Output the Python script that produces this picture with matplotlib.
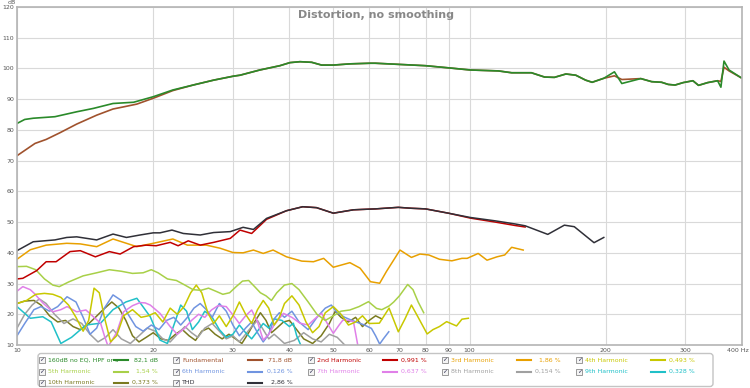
import matplotlib
matplotlib.use("Agg")
import matplotlib.pyplot as plt
import matplotlib.transforms as mtransforms
from matplotlib.patches import Rectangle, FancyBboxPatch

# measurement (160dB no EQ) and fundamental, SPL in dB
meas_f = [10, 10.4, 10.86, 12.13, 13.55, 14.75, 16.3, 18.1, 20, 22.1, 24.5, 27.2, 30.1, 31.1,
          34.4, 38.1, 40.1, 42.2, 44.8, 47.1, 50, 54.5, 60.4, 61.9, 79.9, 89.8, 100.4, 115.8,
          123.9, 137, 146.5, 154, 163.3, 171.7, 180.5, 186.6, 198, 209, 217, 239, 252.6, 265.7,
          274.8, 284.5, 296.6, 311.6, 320.6, 336, 353.3, 359.3, 365, 374.5, 398]
meas_db = [82.1, 83.4, 83.8, 84.3, 85.9, 87.0, 88.6, 89.0, 90.8, 93.0, 94.6, 96.2, 97.5, 97.8,
           99.5, 100.9, 101.9, 102.2, 102.0, 101.1, 101.1, 101.5, 101.7, 101.7, 100.9, 100.2, 99.5, 99.2,
           98.6, 98.6, 97.2, 97.1, 98.2, 97.8, 96.2, 95.5, 96.8, 98.9, 95.1, 96.7, 95.7, 95.5,
           94.8, 94.6, 95.4, 96.0, 94.5, 95.4, 96.0, 93.9, 102.4, 99.5, 97.0]
fund_f = [10, 10.96, 11.6, 12.45, 13.55, 15.0, 16.3, 17.2, 18.4, 20, 22.1, 24.5, 27.2, 30.1, 31.1,
          34.4, 38.1, 40.1, 42.2, 44.8, 47.1, 50, 54.5, 60.4, 61.9, 79.9, 89.8, 100.4, 115.8,
          123.9, 137, 146.5, 154, 163.3, 171.7, 180.5, 186.6, 198, 209, 217, 239, 252.6, 265.7,
          274.8, 284.5, 296.6, 311.6, 320.6, 336, 353.3, 359.3, 365, 374.5, 398]
fund_db = [71.6, 75.6, 76.9, 79.1, 81.9, 84.8, 86.8, 87.5, 88.4, 90.3, 92.8, 94.6, 96.2, 97.5, 97.8,
           99.5, 100.9, 101.9, 102.2, 102.0, 101.1, 101.1, 101.5, 101.7, 101.7, 100.9, 100.2, 99.5, 99.2,
           98.6, 98.6, 97.2, 97.1, 98.2, 97.8, 96.2, 95.5, 96.8, 97.6, 96.4, 96.7, 95.7, 95.5,
           94.8, 94.6, 95.4, 96.0, 94.5, 95.4, 96.0, 95.8, 100.4, 99.2, 97.0]

thd_f = [10, 10.86, 12.13, 12.88, 13.55, 15, 16.3, 17.45, 18.7, 20, 20.7, 22, 23.3, 25.4, 27.2,
         29.6, 31.6, 33.3, 35.6, 39.4, 42.8, 45.9, 50, 55.4, 62, 69.6, 74.4, 79.9, 89.8, 100.4,
         114, 126, 132.7, 148.9, 162, 170.4, 188.4, 198]
thd_db = [40.7, 43.6, 44.2, 45.0, 45.2, 44.2, 46.1, 45.0, 45.8, 46.5, 46.5, 47.4, 46.3, 45.8, 46.6,
          46.9, 48.3, 47.6, 51.2, 53.7, 55.0, 54.7, 52.9, 54.0, 54.3, 54.8, 54.5, 54.3, 52.9, 51.5,
          50.4, 49.4, 48.8, 46.0, 49.0, 48.5, 43.3, 45.0]

h2_f = [10, 10.3, 11.05, 11.6, 12.2, 13.1, 13.8, 14.9, 16.0, 16.9, 18.1, 19.3, 20.3, 21.8, 22.7,
        23.9, 25.4, 27.2, 29.6, 31.1, 33.0, 35.6, 39.4, 42.8, 45.9, 50, 55.4, 62, 69.6, 74.4,
        79.9, 89.8, 100.4, 114, 126, 132.7]
h2_db = [31.5, 31.7, 34.2, 37.1, 37.1, 40.4, 40.7, 38.7, 40.4, 39.6, 42.0, 42.5, 42.3, 43.4, 42.3,
         43.9, 42.5, 43.4, 44.7, 47.4, 46.3, 50.9, 53.7, 55.0, 54.7, 52.9, 54.0, 54.3, 54.8, 54.5,
         54.3, 52.9, 51.3, 50.0, 48.9, 48.4]

h3_f = [10, 10.7, 11.6, 12.88, 13.8, 15, 16.3, 17.45, 18.4, 20, 22.1, 23.8, 26.2, 28.1, 30,
        31.6, 33.3, 35, 36.8, 39.4, 42.6, 45.2, 47.6, 50, 54.4, 57.3, 60.4, 63.3, 65.5, 70.2,
        74.4, 77.7, 81.3, 85.8, 91.4, 96.2, 98.8, 104.5, 109.3, 115, 119.6, 123.9, 131.4]
h3_db = [37.9, 41.0, 42.5, 43.1, 42.9, 42.0, 44.5, 43.1, 42.0, 43.1, 44.5, 42.5, 42.5, 41.5, 40.1,
         40.0, 40.9, 39.8, 40.9, 38.7, 37.3, 37.1, 38.2, 35.3, 36.8, 35.0, 30.6, 30.1, 33.9, 40.9,
         38.5, 39.6, 39.3, 37.9, 37.4, 38.2, 38.2, 39.8, 37.6, 38.7, 39.3, 41.8, 40.9]

h4_f = [10, 10.5, 11, 11.5, 12, 12.5, 13, 13.5, 14, 14.4, 14.8, 15.2, 15.6, 16.1, 16.6, 17.2,
        18, 18.8, 19.5, 20.2, 21, 21.8, 22.6, 23.4, 24.2, 24.9, 25.6, 26.4, 27.2, 28, 29, 30,
        31, 32, 33, 34, 35, 36, 37, 38, 39, 40.5, 42, 43.5, 45, 46.5, 48, 50, 52, 54, 56, 58,
        60, 63.2, 66.4, 69.6, 72, 74.4, 77, 80.6, 83, 85.8, 89, 93.6, 96.2, 99.4]
h4_db = [23.5, 24.5, 26.5, 26.8, 26.5, 25.5, 23.0, 19.0, 14.5, 18.0, 28.5, 27.0, 19.0, 11.0, 13.0, 19.5,
         21.5, 19.0, 19.5, 20.5, 17.5, 22.0, 20.0, 22.5, 27.0, 29.5, 27.0, 20.5, 17.0, 19.5, 16.0, 19.5,
         24.0, 20.0, 17.0, 21.5, 24.5, 22.0, 16.5, 19.0, 23.5, 26.0, 23.0, 17.5, 14.0, 16.0, 20.5, 22.5,
         20.0, 16.5, 17.5, 19.5, 17.0, 17.1, 22.0, 14.3, 18.5, 23.0, 19.0, 13.6, 15.0, 16.0, 17.6, 16.2,
         18.4, 18.7]

h5_f = [10, 10.5, 11, 11.5, 12, 12.4, 13, 14, 15, 16, 17, 18, 19, 19.8, 20.5, 21.5, 22.5, 23.5,
        24.5, 25.5, 26.5, 27.5, 28.5, 29.5, 30.5, 31.5, 32.5, 33.5, 34.5, 35.5, 36.5, 37.5, 39,
        40.5, 42, 44, 46, 48, 50, 52, 54.4, 57, 59.8, 62.3, 64, 66.4, 68, 70, 73, 75, 77, 79.2]
h5_db = [35.5, 35.6, 34.5, 31.5, 29.5, 29.0, 30.5, 32.5, 33.5, 34.5, 34.0, 33.3, 33.5, 34.5, 33.5,
         31.5, 31.0, 29.5, 28.0, 27.8, 28.5, 27.5, 26.5, 27.0, 29.0, 30.8, 31.0, 29.0, 27.0, 26.0,
         24.5, 27.0, 29.5, 30.0, 28.0, 24.0, 20.0, 18.0, 19.5, 21.0, 21.4, 22.5, 24.1, 21.9, 21.5,
         22.7, 24.0, 26.0, 29.7, 28.0, 24.0, 20.5]

h6_f = [10, 10.4, 10.9, 11.3, 11.8, 12.3, 12.9, 13.5, 14.0, 14.5, 15.0, 15.6, 16.3, 17, 17.6,
        18.3, 19, 19.8, 20.6, 21.4, 22.2, 23, 23.8, 24.6, 25.4, 26.2, 27, 28, 29, 30, 31, 32, 33,
        34, 35, 36, 37, 38, 39, 40.5, 42, 44, 46, 48, 49.5, 51, 53, 55, 58.6, 60.7, 62, 63.3,
        64.5, 66.3]
h6_db = [13.0, 17.0, 21.5, 22.5, 21.0, 22.5, 25.7, 24.0, 19.0, 13.5, 15.5, 22.0, 26.3, 24.5, 20.0,
         16.0, 14.5, 16.5, 15.0, 18.0, 19.0, 16.5, 19.0, 22.0, 23.5, 21.5, 19.0, 23.5, 21.0, 16.5,
         13.0, 15.5, 17.5, 14.0, 11.0, 13.5, 18.5, 20.5, 19.0, 21.0, 17.5, 15.0, 19.0, 22.0, 23.0,
         20.5, 19.0, 18.0, 16.5, 15.4, 13.0, 10.3, 12.0, 14.3]

h7_f = [10, 10.3, 10.7, 10.9, 11.4, 12.0, 12.5, 12.9, 13.55, 14.2, 14.8, 15.3, 15.6, 15.9, 16.6,
        17.2, 18, 18.7, 19.2, 19.7, 20.7, 21.8, 22.6, 23.5, 24.3, 25.2, 26, 26.9, 27.8, 29, 30,
        31, 32, 33, 34, 35, 36, 37, 38.8, 40.5, 42.2, 44, 45.5, 47.1, 48.5, 50, 51.5, 52.5, 54,
        55.4, 56.7]
h7_db = [27.5, 29.0, 28.0, 26.9, 23.7, 20.8, 21.5, 22.5, 20.8, 21.4, 19.0, 17.1, 13.0, 9.5, 14.0,
         20.8, 22.8, 23.8, 23.7, 23.0, 20.3, 16.0, 13.5, 15.5, 18.0, 20.0, 19.0, 21.4, 22.8, 22.5, 19.8,
         17.0, 19.5, 21.4, 17.5, 11.6, 13.5, 16.5, 20.3, 19.0, 17.1, 16.5, 18.5, 20.3, 17.0, 13.8,
         16.5, 18.1, 18.0, 17.6, 9.5]

h8_f = [10, 10.4, 10.8, 11.2, 11.6, 12.1, 12.7, 13.3, 13.9, 14.5, 15.1, 15.7, 16.3, 17, 17.8,
        18.6, 19.4, 20.2, 21, 21.8, 22.6, 23.5, 24.3, 25.1, 26, 27, 28, 29, 30, 31, 32, 33, 34,
        35, 36, 37, 38, 39, 41, 43, 45, 47, 49, 51, 53]
h8_db = [15.5, 20.0, 23.0, 25.0, 23.5, 20.0, 17.0, 18.5, 17.0, 13.5, 11.0, 12.5, 15.0, 12.0, 10.5,
         13.0, 15.5, 14.5, 12.0, 11.0, 13.5, 16.0, 14.0, 12.5, 15.5, 17.0, 14.5, 12.0, 13.0, 11.0,
         13.5, 16.0, 18.0, 15.0, 12.0, 13.5, 12.0, 10.5, 11.5, 14.0, 12.0, 11.0, 13.5, 12.5, 10.0]

h9_f = [10, 10.7, 11.4, 11.9, 12.5, 13.2, 14.2, 15.3, 16.3, 17.4, 18.4, 19.7, 20.7, 21.5, 22.4,
        23.0, 23.7, 24.4, 25.2, 26, 27, 28, 29, 30, 31, 32, 33, 34, 35, 36, 37, 38.5, 40, 40.8,
        41.5, 42.5]
h9_db = [22.5, 18.7, 19.2, 17.5, 10.5, 12.5, 16.5, 17.1, 21.5, 24.0, 25.2, 19.2, 11.6, 10.5, 18.0,
         23.0, 21.0, 15.0, 17.5, 21.0, 19.0, 15.0, 12.5, 13.5, 16.5, 14.0, 12.0, 14.5, 17.0, 15.5,
         18.5, 18.0, 16.0, 17.1, 13.0, 9.5]

h10_f = [10, 10.4, 10.9, 11.3, 11.8, 12.3, 12.8, 13.3, 13.8, 14.3, 14.9, 15.5, 16.2, 16.8, 17.4,
         18, 18.6, 19.3, 20, 20.8, 21.6, 22.4, 23.2, 24, 24.8, 25.6, 26.5, 27.4, 28.4, 29.4, 30.4,
         31.4, 32.5, 33.5, 34.5, 35.5, 36.5, 37.5, 38.8, 40, 41.5, 43, 45, 47, 49, 50.5, 52, 54,
         56, 58, 60, 62, 64]
h10_db = [23.5, 24.3, 24.5, 23.0, 19.5, 17.5, 18.0, 16.0, 15.0, 16.5, 19.0, 21.5, 24.0, 22.0, 18.0,
          13.0, 11.0, 12.5, 14.0, 12.0, 11.5, 13.5, 15.0, 13.0, 11.5, 14.5, 15.5, 13.5, 12.0, 13.5,
          12.0, 10.5, 14.0, 17.5, 20.5, 18.0, 14.0, 15.5, 17.5, 18.0, 15.0, 12.0, 10.5, 13.0, 17.0,
          21.0, 19.0, 17.5, 19.0, 16.0, 18.0, 19.5, 18.5]

# legend entries
names = ["160dB no EQ, HPF or s", "Fundamental", "2nd Harmonic", "3rd Harmonic", "4th Harmonic",
         "5th Harmonic", "6th Harmonic", "7th Harmonic", "8th Harmonic", "9th Harmonic",
         "10th Harmonic", "THD"]
values = ["82,1 dB", "71,8 dB", "0,991 %", "1,86 %", "0,493 %",
          "1,54 %", "0,126 %", "0,637 %", "0,154 %", "0,328 %",
          "0,373 %", "2,86 %"]
colors = ["#2a8a2a", "#a0522d", "#c00000", "#e8a000", "#c8c800",
          "#a8d048", "#7094e0", "#e080e8", "#a0a0a0", "#20c0c8",
          "#7a7a20", "#303038"]

xticks = [10, 20, 30, 40, 50, 60, 70, 80, 90, 100, 200, 300, 400]
xticklabels = ["10", "20", "30", "40", "50", "60", "70", "80", "90", "100", "200", "300", "400 Hz"]
yticks = list(range(10, 121, 10))

fig = plt.figure(figsize=(7.5, 3.88), dpi=100)
ax = fig.add_axes([17 / 750, 1 - 345 / 388, 725 / 750, 338 / 388])

series = [(meas_f, meas_db), (fund_f, fund_db), (h2_f, h2_db), (h3_f, h3_db), (h4_f, h4_db),
          (h5_f, h5_db), (h6_f, h6_db), (h7_f, h7_db), (h8_f, h8_db), (h9_f, h9_db),
          (h10_f, h10_db), (thd_f, thd_db)]
# draw low harmonics first, big curves on top
order = [10, 8, 9, 6, 7, 4, 5, 3, 2, 11, 1, 0]
for i in order:
    f, d = series[i]
    ax.plot(f, d, color=colors[i], lw=1.1 if i > 1 else 1.2, solid_joinstyle="round")

ax.set_xscale("log")
ax.set_xlim(10, 400)
ax.set_ylim(10, 120)
ax.set_xticks(xticks)
ax.set_xticklabels(xticklabels)
ax.xaxis.set_minor_locator(matplotlib.ticker.NullLocator())
ax.set_yticks(yticks)
ax.tick_params(labelsize=4.5, colors="#555555", length=0, pad=2)
# last label ("400 Hz") sits left-aligned-ish so it stays inside the figure
last = ax.get_xticklabels()[-1]
last.set_horizontalalignment("right")
last.set_transform(last.get_transform() + mtransforms.ScaledTranslation(7 / 100, 0, fig.dpi_scale_trans))
ax.grid(True, color="#d9d9d9", lw=0.8)
ax.set_axisbelow(True)
for s in ax.spines.values():
    s.set_color("#b4b4b4")
    s.set_linewidth(1.2)
ax.text(0.495, 0.99, "Distortion, no smoothing", transform=ax.transAxes, ha="center", va="top",
        fontsize=8, color="#888888", fontweight="bold")
fig.text(12 / 750, 1 - 3 / 388, "dB", fontsize=4.5, color="#555555", ha="center", va="center")

# legend drawn in pixel coordinates
lg = fig.add_axes([0, 0, 1, 1])
lg.set_xlim(0, 750)
lg.set_ylim(388, 0)
lg.axis("off")
lg.add_patch(FancyBboxPatch((38, 353.5), 675, 33, boxstyle="round,pad=0,rounding_size=3",
                            fc="white", ec="#c4c4c4", lw=1))
rows_y = [360, 371.5, 382.5]
for k, name in enumerate(names):
    r, c = divmod(k, 5)
    x0 = 42 + 134.3 * c
    y = rows_y[r]
    lg.add_patch(Rectangle((x0 - 3, y - 3), 6, 6, fc="#f4f4f4", ec="#8a8a8a", lw=0.6))
    lg.text(x0, y, "\u2713", fontsize=4.5, color="#333355", ha="center", va="center")
    lg.text(x0 + 6, y, name, fontsize=4.5, color=colors[k], ha="left", va="center")
    lg.plot([x0 + 72, x0 + 86], [y, y], color=colors[k], lw=1.5)
    lg.text(x0 + 116, y, values[k], fontsize=4.5, color=colors[k], ha="right", va="center")

fig.savefig("out.png", dpi=100)
